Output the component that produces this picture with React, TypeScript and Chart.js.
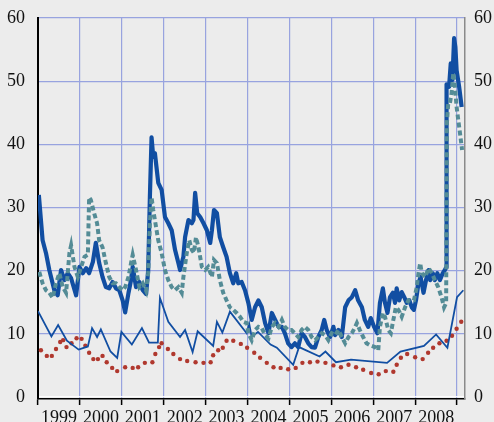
import React, { useEffect, useRef } from "react";
import { Chart, registerables } from "chart.js";

Chart.register(...registerables);

// Thick dark blue series (weekly)
const datesThick = [
  1999.02, 1999.11, 1999.19, 1999.27, 1999.39, 1999.47, 1999.55, 1999.63, 1999.71, 1999.79, 1999.91, 1999.99,
  2000.07, 2000.15, 2000.22, 2000.31, 2000.38, 2000.46, 2000.54, 2000.62, 2000.70, 2000.78, 2000.86, 2000.94,
  2001.02, 2001.08, 2001.16, 2001.22, 2001.26, 2001.34, 2001.42, 2001.50, 2001.58, 2001.63, 2001.67, 2001.71,
  2001.75, 2001.79, 2001.87, 2001.95, 2002.03, 2002.11, 2002.19, 2002.27, 2002.35, 2002.39, 2002.47, 2002.51,
  2002.59, 2002.67, 2002.71, 2002.75, 2002.80, 2002.87, 2002.95, 2003.03, 2003.11, 2003.15, 2003.20, 2003.27,
  2003.34, 2003.42, 2003.50, 2003.58, 2003.66, 2003.73, 2003.78, 2003.86, 2003.94, 2004.02, 2004.10, 2004.18,
  2004.26, 2004.34, 2004.42, 2004.50, 2004.58, 2004.66, 2004.74, 2004.82, 2004.89, 2004.97, 2005.05, 2005.13,
  2005.21, 2005.29, 2005.37, 2005.45, 2005.53, 2005.61, 2005.69, 2005.77, 2005.83, 2005.89, 2005.97, 2006.05,
  2006.09, 2006.17, 2006.25, 2006.33, 2006.41, 2006.49, 2006.57, 2006.64, 2006.73, 2006.80, 2006.88, 2006.94,
  2007.02, 2007.10, 2007.16, 2007.23, 2007.28, 2007.34, 2007.40, 2007.47, 2007.52, 2007.56, 2007.62, 2007.68,
  2007.74, 2007.80, 2007.86, 2007.92, 2007.97, 2008.02, 2008.08, 2008.13, 2008.20, 2008.26, 2008.32, 2008.36,
  2008.42, 2008.47, 2008.53, 2008.59, 2008.66, 2008.71, 2008.74, 2008.75, 2008.81, 2008.85, 2008.89, 2008.93,
  2008.96, 2008.99, 2009.05, 2009.11,
];
const valuesThick = [
  32.0, 24.8, 22.8, 20.1, 16.9, 16.1, 20.1, 18.5, 19.6, 18.8, 16.1, 20.6,
  19.6, 20.4, 19.6, 21.4, 24.4, 21.2, 19.0, 17.4, 17.2, 18.2, 17.2, 16.9,
  15.3, 13.4, 16.5, 18.5, 20.6, 17.4, 18.2, 16.9, 16.3, 20.1, 31.6, 41.1,
  38.0, 38.6, 33.9, 32.8, 28.5, 27.5, 26.4, 23.3, 21.2, 20.1, 22.2, 25.3,
  28.0, 27.5, 28.0, 32.3, 29.1, 28.5, 27.5, 26.4, 24.4, 26.4, 29.6, 29.1,
  25.3, 23.7, 22.2, 19.6, 18.0, 19.6, 18.0, 18.2, 16.9, 14.9, 12.2, 14.2,
  15.3, 14.2, 11.7, 10.1, 13.3, 12.2, 11.1, 11.1, 10.1, 8.5, 7.9, 8.5,
  7.9, 10.1, 9.5, 8.5, 7.9, 7.8, 9.5, 10.6, 12.2, 10.6, 9.5, 11.1,
  9.8, 10.6, 9.5, 14.2, 15.3, 15.8, 16.9, 15.3, 14.2, 12.2, 11.1, 12.5,
  11.1, 10.1, 14.9, 17.2, 14.9, 13.3, 15.8, 16.5, 14.9, 17.2, 15.3, 16.6,
  15.8, 14.9, 15.3, 14.2, 13.8, 15.3, 18.0, 19.0, 16.5, 18.5, 20.1, 18.5,
  19.6, 18.5, 19.6, 18.5, 19.6, 20.1, 20.5, 49.5, 49.1, 52.8, 50.2, 56.8,
  55.4, 51.7, 49.1, 45.9,
];

// Dashed teal series (weekly)
const datesDashed = [
  1999.03, 1999.11, 1999.19, 1999.27, 1999.35, 1999.43, 1999.51, 1999.59, 1999.67, 1999.75, 1999.79, 1999.87,
  1999.95, 2000.03, 2000.11, 2000.19, 2000.22, 2000.26, 2000.34, 2000.41, 2000.46, 2000.54, 2000.62, 2000.70,
  2000.78, 2000.86, 2000.94, 2001.02, 2001.08, 2001.16, 2001.22, 2001.26, 2001.34, 2001.42, 2001.50, 2001.58,
  2001.63, 2001.67, 2001.71, 2001.75, 2001.79, 2001.83, 2001.87, 2001.95, 2002.03, 2002.11, 2002.19, 2002.27,
  2002.35, 2002.43, 2002.47, 2002.55, 2002.61, 2002.67, 2002.72, 2002.77, 2002.83, 2002.91, 2002.99, 2003.06,
  2003.15, 2003.20, 2003.27, 2003.34, 2003.42, 2003.50, 2003.58, 2003.66, 2003.74, 2003.82, 2003.90, 2003.98,
  2004.02, 2004.10, 2004.18, 2004.26, 2004.34, 2004.42, 2004.50, 2004.58, 2004.66, 2004.74, 2004.82, 2004.89,
  2004.97, 2005.05, 2005.13, 2005.21, 2005.29, 2005.37, 2005.45, 2005.53, 2005.61, 2005.69, 2005.77, 2005.85,
  2005.93, 2006.01, 2006.09, 2006.17, 2006.25, 2006.33, 2006.41, 2006.49, 2006.57, 2006.61, 2006.68, 2006.76,
  2006.84, 2006.92, 2007.04, 2007.12, 2007.16, 2007.23, 2007.28, 2007.36, 2007.42, 2007.48, 2007.54, 2007.60,
  2007.68, 2007.76, 2007.84, 2007.92, 2007.97, 2008.04, 2008.08, 2008.12, 2008.16, 2008.24, 2008.32, 2008.40,
  2008.47, 2008.55, 2008.63, 2008.69, 2008.74, 2008.76, 2008.79, 2008.83, 2008.87, 2008.91, 2008.95, 2008.99,
  2009.03, 2009.07, 2009.12,
];
const valuesDashed = [
  19.8, 18.0, 16.9, 16.5, 15.7, 18.0, 19.6, 17.4, 16.5, 22.8, 24.0, 20.6,
  19.0, 20.6, 22.2, 22.5, 31.6, 31.2, 29.1, 27.5, 24.8, 23.7, 21.2, 19.0,
  18.0, 18.0, 17.4, 16.9, 17.4, 19.0, 21.2, 22.5, 20.1, 17.4, 18.0, 16.8,
  19.6, 27.5, 31.6, 29.6, 28.0, 26.4, 24.8, 22.8, 20.1, 18.5, 17.4, 16.9,
  17.4, 16.5, 19.0, 22.8, 24.8, 23.3, 22.8, 25.3, 23.7, 20.6, 20.1, 20.6,
  19.0, 21.7, 21.2, 18.5, 16.5, 15.3, 14.2, 13.8, 13.3, 12.7, 11.9, 11.7,
  10.1, 9.0, 10.6, 11.1, 10.9, 9.8, 9.3, 11.1, 11.7, 11.1, 12.2, 11.1,
  10.6, 10.6, 10.1, 9.5, 10.6, 11.1, 10.6, 9.5, 9.0, 9.5, 10.1, 9.8,
  9.0, 10.1, 9.8, 10.6, 9.5, 8.5, 9.5, 10.1, 11.1, 11.7, 10.6, 9.5,
  8.5, 8.2, 7.9, 7.4, 11.1, 13.3, 12.7, 10.6, 10.1, 12.2, 14.2, 13.8,
  12.7, 14.2, 15.3, 15.3, 15.3, 17.4, 19.6, 21.2, 19.6, 19.0, 20.4, 19.6,
  18.5, 17.4, 15.8, 14.2, 14.9, 43.5, 46.5, 46.5, 48.1, 51.3, 49.1, 45.9,
  43.8, 41.8, 39.1,
];

// Thin blue series
const datesThin = [
  1999.0, 1999.32, 1999.48, 1999.69, 1999.97, 2000.19, 2000.29, 2000.41, 2000.5, 2000.73, 2000.89, 2000.99,
  2001.24, 2001.48, 2001.65, 2001.86, 2001.91, 2002.11, 2002.39, 2002.51, 2002.69, 2002.81, 2003.18, 2003.27,
  2003.4, 2003.58, 2003.98, 2004.04, 2004.1, 2004.25, 2004.55, 2004.7, 2005.09, 2005.23, 2005.72, 2005.86,
  2006.11, 2006.47, 2007.33, 2007.65, 2008.21, 2008.5, 2008.77, 2009.0, 2009.15,
];
const valuesThin = [
  13.6, 9.6, 11.4, 8.9, 7.5, 8.0, 10.9, 9.5, 10.7, 7.2, 6.2, 10.3,
  8.3, 10.9, 8.6, 8.6, 15.7, 11.9, 9.5, 10.6, 7.1, 10.4, 8.1, 11.9,
  10.2, 13.5, 10.1, 11.6, 9.5, 10.3, 8.3, 7.8, 5.1, 7.9, 6.4, 7.2,
  5.5, 5.9, 5.4, 7.2, 8.1, 9.9, 7.8, 15.8, 16.9,
];

// Dotted red series
const datesDotted = [
  1999.07, 1999.21, 1999.33, 1999.43, 1999.53, 1999.6, 1999.68, 1999.8, 1999.92, 2000.04, 2000.13, 2000.22,
  2000.32, 2000.43, 2000.54, 2000.64, 2000.77, 2000.89, 2001.08, 2001.26, 2001.39, 2001.55, 2001.73, 2001.8,
  2001.89, 2001.95, 2002.1, 2002.23, 2002.39, 2002.56, 2002.76, 2002.95, 2003.12, 2003.18, 2003.3, 2003.41,
  2003.5, 2003.66, 2003.84, 2003.99, 2004.16, 2004.3, 2004.46, 2004.62, 2004.79, 2004.97, 2005.15, 2005.31,
  2005.49, 2005.67, 2005.86, 2006.05, 2006.23, 2006.41, 2006.59, 2006.76, 2006.95, 2007.13, 2007.3, 2007.48,
  2007.56, 2007.66, 2007.81, 2008.0, 2008.18, 2008.31, 2008.43, 2008.58, 2008.75, 2008.88, 2008.99, 2009.1,
];
const valuesDotted = [
  7.4, 6.5, 6.5, 7.6, 8.7, 9.0, 7.9, 8.5, 9.3, 9.2, 8.1, 7.0,
  6.0, 6.0, 6.5, 5.5, 4.6, 4.1, 4.7, 4.6, 4.7, 5.4, 5.5, 6.8,
  7.9, 8.5, 7.6, 6.8, 6.0, 5.7, 5.5, 5.4, 5.5, 6.6, 7.4, 7.8,
  8.9, 8.9, 8.4, 7.8, 7.0, 6.2, 5.4, 4.7, 4.6, 4.4, 4.6, 5.4,
  5.5, 5.6, 5.4, 5.0, 4.7, 5.1, 4.7, 4.3, 3.8, 3.6, 4.1, 4.0,
  5.1, 6.2, 6.8, 6.3, 6.0, 7.0, 7.8, 8.5, 8.9, 9.7, 10.8, 11.9,
];

const yearTicks = [1999, 2000, 2001, 2002, 2003, 2004, 2005, 2006, 2007, 2008, 2009];
const valueTicks = [0, 10, 20, 30, 40, 50, 60];

const pts = (xs: number[], ys: number[]) => xs.map((x, i) => ({ x, y: ys[i] }));

const FONT = { family: "'Liberation Serif', 'Times New Roman', serif", size: 18 };
const GRID = "#98a3df";

export default function App() {
  const ref = useRef<HTMLCanvasElement | null>(null);

  useEffect(() => {
    if (!ref.current) return;
    const chart = new Chart(ref.current, {
      type: "line",
      data: {
        datasets: [
          {
            data: pts(datesDashed, valuesDashed),
            borderColor: "#548c96",
            borderWidth: 4,
            borderDash: [5, 3],
            pointRadius: 0,
            tension: 0,
            yAxisID: "y",
          },
          {
            data: pts(datesThick, valuesThick),
            borderColor: "#114ea2",
            borderWidth: 4.2,
            borderJoinStyle: "round",
            pointRadius: 0,
            tension: 0,
            yAxisID: "y",
          },
          {
            data: pts(datesThin, valuesThin),
            borderColor: "#114ea2",
            borderWidth: 1.8,
            pointRadius: 0,
            tension: 0,
            yAxisID: "y",
          },
          {
            data: pts(datesDotted, valuesDotted),
            borderColor: "#b0382e",
            backgroundColor: "#b0382e",
            showLine: false,
            pointRadius: 2.2,
            pointBorderWidth: 0,
            yAxisID: "y",
          },
        ],
      },
      options: {
        animation: false,
        responsive: true,
        maintainAspectRatio: false,
        layout: { padding: { top: 18, left: 0, right: 0, bottom: 0 } },
        plugins: { legend: { display: false }, tooltip: { enabled: false } },
        scales: {
          x: {
            type: "linear",
            min: 1999,
            max: 2009.19,
            afterBuildTicks: (s: any) => {
              s.ticks = yearTicks.map((v) => ({ value: v }));
            },
            afterFit: (s: any) => {
              s.height = 23;
            },
            grid: {
              color: GRID,
              lineWidth: 1.2,
              tickColor: "#000",
              tickLength: 6,
              tickWidth: 1.5,
            },
            border: { color: "#000", width: 1.5 },
            ticks: {
              color: "#111",
              font: FONT,
              padding: 2,
              labelOffset: 21,
              maxRotation: 0,
              autoSkip: false,
              callback: (v: any) => (Number(v) < 2009 ? String(v) : ""),
            },
          },
          y: {
            position: "left",
            min: -0.32,
            max: 60,
            afterBuildTicks: (s: any) => {
              s.ticks = valueTicks.map((v) => ({ value: v }));
            },
            afterFit: (s: any) => {
              s.width = 38;
            },
            grid: {
              color: (c: any) => (c.tick && c.tick.value === 0 ? "rgba(255,255,255,0.9)" : GRID),
              lineWidth: 1.2,
              drawTicks: true,
              tickLength: 9,
              tickColor: "rgba(0,0,0,0)",
            },
            border: { color: "#000", width: 2 },
            ticks: { color: "#111", font: FONT, padding: 4 },
          },
          y2: {
            position: "right",
            min: -0.32,
            max: 60,
            afterBuildTicks: (s: any) => {
              s.ticks = valueTicks.map((v) => ({ value: v }));
            },
            afterFit: (s: any) => {
              s.width = 29;
            },
            grid: { display: false, drawTicks: true, tickLength: 4, tickColor: "rgba(0,0,0,0)" },
            border: { color: "#8a8a8a", width: 1.5 },
            ticks: { color: "#111", font: FONT, padding: 5 },
          },
        },
      },
    } as any);
    return () => chart.destroy();
  }, []);

  return (
    <div
      style={{
        position: "fixed",
        left: 0,
        top: 0,
        width: 494,
        height: 422,
        background: "#ececec",
      }}
    >
      <canvas ref={ref} />
    </div>
  );
}
